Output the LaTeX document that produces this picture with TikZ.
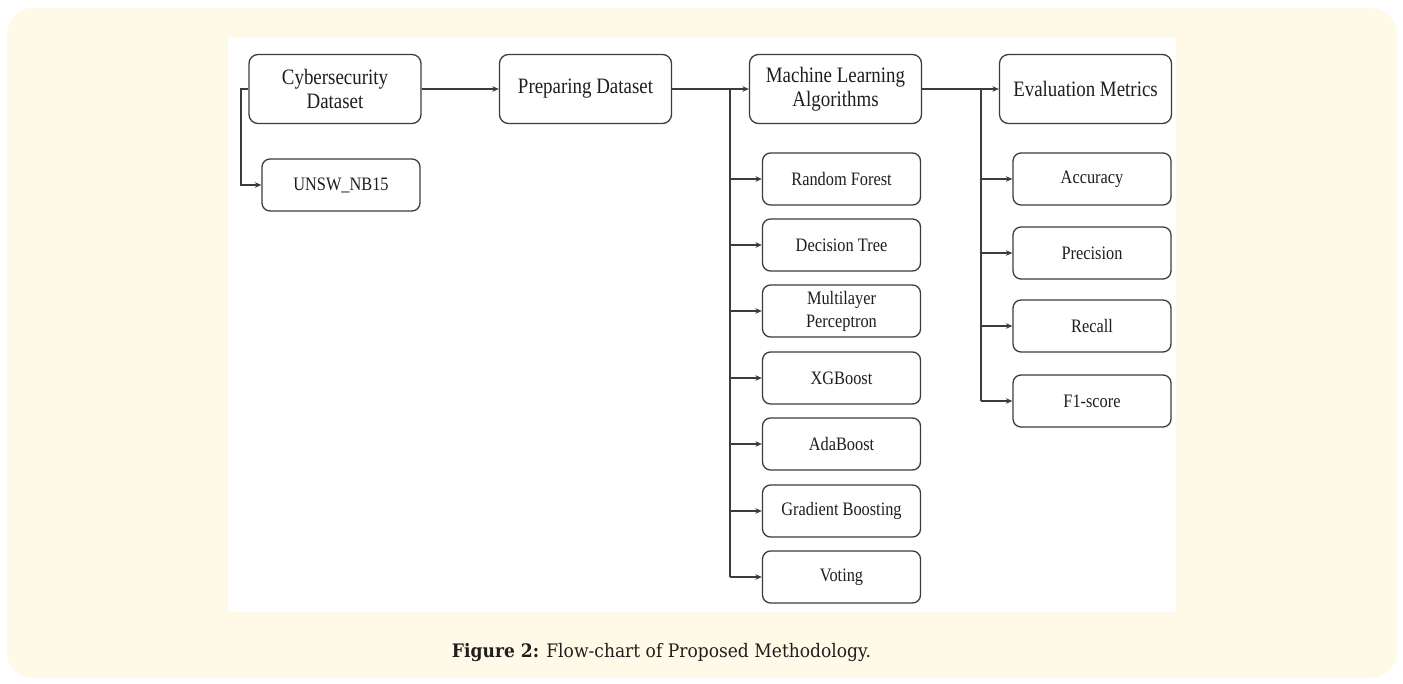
\documentclass[tikz,border=0pt]{standalone}
\usepackage{fontspec}
\setmainfont{Liberation Serif}[FakeStretch=0.86]
\newfontfamily\capfont{DejaVu Serif}[FakeStretch=0.92]
\usetikzlibrary{arrows.meta}
\definecolor{cream}{HTML}{FFFAE8}
\definecolor{edge}{HTML}{3C3C3C}
\definecolor{txt}{HTML}{1E1E1E}
\tikzset{
  box/.style={draw=edge, line width=1.3pt, rounded corners=9pt, fill=white,
    inner sep=0pt, align=center, text=txt,
    font=\fontsize{22}{24}\selectfont},
  bigbox/.style={box, minimum width=172pt, minimum height=69pt},
  subbox/.style={box, minimum width=158pt, minimum height=52pt, rounded corners=8pt,
    font=\fontsize{19}{23}\selectfont},
  link/.style={draw=edge, line width=1.3pt, -{Stealth[length=6.5pt,width=5.5pt]}},
  trunk/.style={draw=edge, line width=1.3pt}
}
\begin{document}
\begin{tikzpicture}[x=1pt,y=-1pt]
\useasboundingbox (0,0) rectangle (1403,684);
\fill[white] (0,0) rectangle (1403,684);
\fill[cream, rounded corners=26pt] (7,8) rectangle (1397,678);
\fill[white] (228,38) rectangle (1176,612);

% top row
\node[bigbox] (cyber) at (335,89) {Cybersecurity\\Dataset};
\node[bigbox] (prep) at (585.5,89) {Preparing Dataset};
\node[bigbox] (ml) at (835.5,89) {Machine Learning\\Algorithms};
\node[bigbox] (eval) at (1085.5,89) {Evaluation Metrics};

\node[subbox] (unsw) at (341,185) {UNSW\_NB15};

% ML algorithms
\node[subbox] (rf) at (841.5,179) {Random Forest};
\node[subbox] (dt) at (841.5,245) {Decision Tree};
\node[subbox] (mlp) at (841.5,311) {Multilayer\\Perceptron};
\node[subbox] (xgb) at (841.5,378) {XGBoost};
\node[subbox] (ada) at (841.5,444) {AdaBoost};
\node[subbox] (gb) at (841.5,511) {Gradient Boosting};
\node[subbox] (vot) at (841.5,577) {Voting};

% metrics
\node[subbox] (acc) at (1092,179) {Accuracy};
\node[subbox] (pre) at (1092,253) {Precision};
\node[subbox] (rec) at (1092,326) {Recall};
\node[subbox] (f1) at (1092,401) {F1-score};

% connectors
\coordinate (cj) at (241,89);
\coordinate (mj) at (730,89);
\coordinate (ej) at (981,89);

\draw[link] (cyber.east) -- (prep.west);
\draw[link] (prep.east) -- (ml.west);
\draw[link] (ml.east) -- (eval.west);
\draw[link] (cyber.west) -- (cj) |- (unsw.west);

\draw[trunk] (mj) -- (mj |- vot.west);
\foreach \n in {rf,dt,mlp,xgb,ada,gb,vot}
  \draw[link] (mj |- \n.west) -- (\n.west);

\draw[trunk] (ej) -- (ej |- f1.west);
\foreach \n in {acc,pre,rec,f1}
  \draw[link] (ej |- \n.west) -- (\n.west);

% caption
\node[text=txt, font=\capfont\fontsize{18.6}{20}\selectfont, inner sep=0pt] (cap) at (661.5,652)
  {\textbf{Figure 2:} Flow-chart of Proposed Methodology.};
\end{tikzpicture}
\end{document}
